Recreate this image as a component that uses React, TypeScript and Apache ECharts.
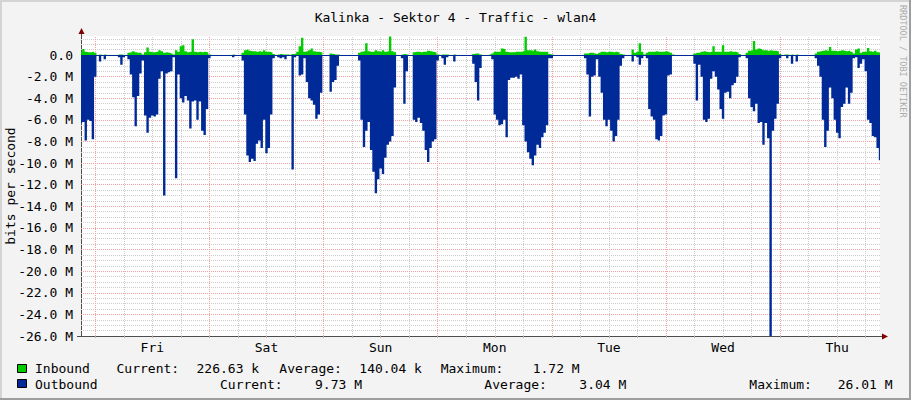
import React, { useEffect, useRef } from 'react';
import * as echarts from 'echarts';

const TITLE = 'Kalinka - Sektor 4 - Traffic - wlan4';
const Y_NAME = 'bits per second';
const WATERMARK = 'RRDTOOL / TOBI OETIKER';

// x values: hours since the start of the graph (Thu 21:00), one sample per 30 min
const STEP_HOURS = 0.5;
const DAY_LABELS = ['Fri', 'Sat', 'Sun', 'Mon', 'Tue', 'Wed', 'Thu'];
const DAY_LABEL_HOURS = [15, 39, 63, 87, 111, 135, 159];
const MIDNIGHT_HOURS = [3, 27, 51, 75, 99, 123, 147];
const SIX_HOUR_LINES = [9, 15, 21, 33, 39, 45, 57, 63, 69, 81, 87, 93, 105, 111, 117, 129, 135, 141, 153, 159, 165];

// y ticks in M (bits per second, millions)
const Y_MAJOR = [0, -2, -4, -6, -8, -10, -12, -14, -16, -18, -20, -22, -24, -26];
const Y_MINOR = [1.5, 1, 0.5, -0.5, -1, -1.5, -2.5, -3, -3.5, -4.5, -5, -5.5, -6.5, -7, -7.5, -8.5, -9, -9.5,
  -10.5, -11, -11.5, -12.5, -13, -13.5, -14.5, -15, -15.5, -16.5, -17, -17.5, -18.5, -19, -19.5,
  -20.5, -21, -21.5, -22.5, -23, -23.5, -24.5, -25, -25.5];

// Outbound traffic (M, drawn negative)
const OUTBOUND = [
  -6.3, -6.2, -7.9, -6.0, -6.1, -7.8, -2.0, 0, -0.6, -0.1, -0.4, -0.1,
  0, 0, 0, 0, -0.2, -0.9, -0.2, 0, -0.4, -1.8, -3.9, -6.6,
  -3.8, -1.7, -0.5, -5.6, -7.2, -5.8, -5.6, -5.7, -5.5, -2.2, -1.5, -13.0,
  -1.7, -1.6, -1.5, -0.2, -11.4, -1.8, -4.0, -4.4, -3.8, -4.2, -6.8, -4.3,
  -4.2, -6.0, -4.3, -7.0, -7.4, -5.0, -0.3, 0, 0, 0, 0, 0,
  0, 0, 0, 0, -0.2, -0.1, 0, 0, -0.5, -5.5, -9.3, -9.9,
  -9.6, -9.8, -8.2, -7.9, -8.6, -6.0, -9.1, -8.6, -5.5, -0.3, 0, -0.2,
  -0.3, -0.2, -0.4, -0.1, 0, -10.6, -0.2, -0.1, -1.9, -1.8, -0.3, -2.5,
  -4.0, -4.2, -4.6, -5.9, -5.5, -3.5, 0, 0, 0, -3.4, -2.5, -2.3,
  -1.0, -0.1, -0.1, 0, 0, 0, 0, 0, 0, -0.5, -6.0, -8.5,
  -7.0, -6.2, -8.8, -10.8, -12.8, -11.5, -10.5, -11.0, -9.5, -8.3, -8.0, -7.5,
  -3.0, 0, 0, -0.3, -4.5, -1.5, -0.1, 0, -6.0, -6.2, -5.8, -6.3,
  -7.0, -8.8, -9.9, -8.6, -8.0, -7.8, -0.5, 0, -0.3, -0.9, -0.2, 0,
  -0.1, -0.6, -0.1, 0, 0, 0, 0, 0, 0, -0.8, -2.5, -4.2,
  -1.2, -0.1, 0, 0, 0, -0.4, -5.5, -6.0, -6.5, -6.4, -6.0, -7.6,
  -2.3, -2.1, -2.1, -2.0, -2.2, -1.8, -6.5, -8.0, -9.0, -9.6, -10.2, -9.3,
  -8.3, -8.6, -7.6, -7.2, -6.5, -0.3, -0.3, 0, 0, 0, 0, 0,
  0, -0.1, 0, 0, 0, 0, 0, 0, -0.3, -1.8, -5.7, -2.0,
  -1.9, -0.4, -2.0, -3.5, -6.0, -6.6, -6.0, -7.0, -8.0, -7.5, -6.0, -1.0,
  -0.3, 0, 0, 0, -0.6, 0, -0.2, -0.9, -0.3, 0, -0.3, -5.0,
  -5.7, -6.0, -7.8, -7.9, -7.5, -5.6, -5.5, -1.9, -1.8, -0.1, 0, 0,
  0, 0, 0, 0, 0, 0, -0.8, -4.2, -0.9, -2.0, -6.0, -6.2,
  -5.9, -2.2, -1.5, -2.0, -3.2, -5.0, -5.9, -3.5, -3.4, -4.0, -2.8, -2.6,
  -2.0, -0.2, 0, 0, -0.3, -4.0, -4.8, -5.2, -4.5, -6.3, -6.2, -8.3,
  -6.3, -7.7, -26.01, -7.0, -5.9, -4.5, -0.3, 0, -0.1, -0.3, -0.1, -0.8,
  -0.1, -0.6, 0, 0, 0, 0, 0, 0, 0, -0.3, -1.0, -2.0,
  -6.0, -8.5, -7.0, -3.0, -4.0, -6.0, -7.2, -7.7, -4.8, -4.5, -3.0, -4.5,
  -3.5, -0.3, -0.2, -1.2, -0.8, -0.4, -1.5, -6.0, -6.3, -7.5, -7.6, -8.6,
  -9.73,
];

// Inbound traffic (M)
const INBOUND = [
  0.3, 0.55, 0.3, 0.25, 0.25, 0.3, 0.2, 0, 0.05, 0, 0.05, 0,
  0, 0, 0, 0, 0.05, 0.05, 0, 0, 0.2, 0.25, 0.35, 0.25,
  0.2, 0.2, 0.05, 0.25, 0.7, 0.3, 0.25, 0.25, 0.3, 0.45, 0.35, 0.2,
  0.25, 0.2, 0.15, 0.05, 0.45, 0.3, 0.8, 0.9, 0.35, 0.25, 0.3, 1.45,
  0.3, 0.25, 0.3, 0.25, 0.3, 0.25, 0.05, 0, 0, 0, 0, 0,
  0, 0, 0, 0, 0.05, 0, 0, 0, 0.2, 0.45, 0.5, 0.4,
  0.35, 0.35, 0.3, 0.35, 0.3, 0.45, 0.3, 0.3, 0.25, 0.1, 0, 0.05,
  0.1, 0.05, 0.05, 0.05, 0, 0.1, 0.1, 0.3, 0.8, 1.6, 0.3, 0.35,
  0.45, 0.6, 0.35, 0.3, 0.3, 0.25, 0, 0, 0, 0.15, 0.1, 0.05,
  0.05, 0, 0, 0, 0, 0, 0, 0, 0, 0.2, 0.3, 0.35,
  1.1, 0.35, 0.3, 0.3, 0.45, 0.35, 0.3, 0.45, 0.3, 0.35, 1.72, 0.35,
  0.25, 0, 0, 0.05, 0.1, 0.05, 0, 0, 0.25, 0.3, 0.3, 0.25,
  0.3, 0.3, 0.4, 0.35, 0.3, 0.25, 0.05, 0, 0.05, 0.05, 0.05, 0,
  0, 0.05, 0, 0, 0, 0, 0, 0, 0, 0.1, 0.15, 0.15,
  0.05, 0, 0, 0, 0.05, 0.15, 0.3, 0.3, 0.3, 0.6, 0.55, 0.3,
  0.25, 0.25, 0.25, 0.3, 0.3, 0.3, 0.35, 1.68, 0.45, 0.45, 0.4, 0.5,
  0.35, 0.3, 0.3, 0.3, 0.3, 0.1, 0.05, 0, 0, 0, 0, 0,
  0, 0, 0, 0, 0, 0, 0, 0, 0.15, 0.15, 0.2, 0.2,
  0.15, 0.1, 0.2, 0.3, 0.3, 0.25, 0.3, 0.3, 0.25, 0.3, 0.25, 0.1,
  0.05, 0, 0, 0, 0.5, 0.2, 0.3, 1.1, 0.3, 0.05, 0.2, 0.3,
  0.3, 0.3, 0.35, 0.3, 0.3, 0.3, 0.35, 0.3, 0.2, 0.05, 0, 0,
  0, 0, 0, 0, 0, 0, 0.15, 0.2, 0.2, 0.3, 0.35, 0.3,
  0.25, 0.3, 0.8, 0.3, 0.3, 0.3, 0.9, 0.3, 0.3, 0.35, 0.3, 0.3,
  0.25, 0.1, 0, 0, 0.2, 0.4, 0.45, 1.3, 0.5, 0.6, 0.55, 0.45,
  0.45, 0.4, 0.45, 0.4, 0.4, 0.35, 0.1, 0, 0.05, 0.05, 0, 0.05,
  0, 0.05, 0, 0, 0, 0, 0, 0, 0, 0.15, 0.3, 0.35,
  0.4, 0.45, 0.4, 0.75, 0.4, 0.4, 0.35, 0.4, 0.45, 0.4, 0.35, 0.4,
  0.3, 0.15, 0.5, 0.6, 0.2, 0.3, 0.3, 0.65, 0.35, 0.3, 0.4, 0.25,
  0.23,
];

const LEGEND_LABELS = ['Inbound', 'Outbound'];
const STAT_LABELS = ['Current:', 'Average:', 'Maximum:'];
const INBOUND_STATS = ['226.63 k', '140.04 k', '1.72 M'];
const OUTBOUND_STATS = ['9.73 M', '3.04 M', '26.01 M'];

const GREEN = '#00CC00';
const BLUE = '#002A97';
const FONT = '"DejaVu Sans Mono", monospace';
const AXIS_COLOR = '#4d4d4d';
const ARROW_COLOR = '#7f0000';

export default function App() {
  const ref = useRef<HTMLDivElement>(null);

  useEffect(() => {
    if (!ref.current) return;
    const chart = echarts.init(ref.current, null, { renderer: 'svg' });
    const hours = OUTBOUND.map((_, i) => i * STEP_HOURS);

    const redLine = { color: '#f2a0a0', type: [1, 1], width: 1 };
    const grayLine = { color: '#cccccc', type: [1, 1], width: 1 };
    const gridLines: any[] = [
      ...SIX_HOUR_LINES.map((h) => ({ xAxis: h, lineStyle: grayLine })),
      ...Y_MINOR.map((v) => ({ yAxis: v, lineStyle: grayLine })),
      ...MIDNIGHT_HOURS.map((h) => ({ xAxis: h, lineStyle: redLine })),
      ...Y_MAJOR.filter((v) => v !== 0 && v !== -26).map((v) => ({ yAxis: v, lineStyle: redLine })),
    ];

    const txt = (text: string, x: number, y: number, extra: any = {}) => ({
      type: 'text',
      x,
      y,
      silent: true,
      style: {
        text,
        font: `13px ${FONT}`,
        fill: '#000',
        align: 'left',
        verticalAlign: 'middle',
        textAlign: 'left',
        textVerticalAlign: 'middle',
        ...extra,
      },
    });

    const row1Y = 368.5;
    const row2Y = 384;
    const graphic: any[] = [
      // frame
      { type: 'line', silent: true, shape: { x1: 0, y1: 1, x2: 911, y2: 1 }, style: { stroke: '#d4d4d4', lineWidth: 2 } },
      { type: 'line', silent: true, shape: { x1: 1, y1: 0, x2: 1, y2: 400 }, style: { stroke: '#d4d4d4', lineWidth: 2 } },
      { type: 'line', silent: true, shape: { x1: 910, y1: 0, x2: 910, y2: 400 }, style: { stroke: '#9e9e9e', lineWidth: 2 } },
      { type: 'line', silent: true, shape: { x1: 0, y1: 399, x2: 911, y2: 399 }, style: { stroke: '#9e9e9e', lineWidth: 2 } },
      // axis extensions and arrows
      { type: 'line', silent: true, shape: { x1: 81.5, y1: 36, x2: 81.5, y2: 33 }, style: { stroke: AXIS_COLOR, lineWidth: 1 } },
      { type: 'line', silent: true, shape: { x1: 77, y1: 336.5, x2: 81, y2: 336.5 }, style: { stroke: AXIS_COLOR, lineWidth: 1 } },
      { type: 'line', silent: true, shape: { x1: 880, y1: 336.5, x2: 883, y2: 336.5 }, style: { stroke: AXIS_COLOR, lineWidth: 1 } },
      { type: 'polygon', silent: true, shape: { points: [[78.5, 34], [84.5, 34], [81.5, 28]] }, style: { fill: ARROW_COLOR } },
      { type: 'polygon', silent: true, shape: { points: [[882, 333.5], [882, 339.5], [888, 336.5]] }, style: { fill: ARROW_COLOR } },
      // watermark
      {
        type: 'text',
        x: 903,
        y: 5,
        rotation: -Math.PI / 2,
        silent: true,
        style: {
          text: WATERMARK,
          font: `8.5px ${FONT}`,
          fill: '#ababab',
          align: 'left',
          verticalAlign: 'middle',
          textAlign: 'left',
          textVerticalAlign: 'middle',
        },
      },
      // legend boxes
      { type: 'rect', silent: true, shape: { x: 17.5, y: 364.5, width: 9, height: 8 }, style: { fill: GREEN, stroke: '#000', lineWidth: 1 } },
      { type: 'rect', silent: true, shape: { x: 17.5, y: 379.5, width: 9, height: 8 }, style: { fill: BLUE, stroke: '#000', lineWidth: 1 } },
      txt(LEGEND_LABELS[0], 35, row1Y),
      txt(STAT_LABELS[0], 116.5, row1Y),
      txt(INBOUND_STATS[0], 196.5, row1Y),
      txt(STAT_LABELS[1], 279.3, row1Y),
      txt(INBOUND_STATS[1], 359.3, row1Y),
      txt(STAT_LABELS[2], 440.7, row1Y),
      txt(INBOUND_STATS[2], 532.7, row1Y),
      txt(LEGEND_LABELS[1], 35, row2Y),
      txt(STAT_LABELS[0], 220, row2Y),
      txt(OUTBOUND_STATS[0], 315, row2Y),
      txt(STAT_LABELS[1], 484.3, row2Y),
      txt(OUTBOUND_STATS[1], 579.3, row2Y),
      txt(STAT_LABELS[2], 749.3, row2Y),
      txt(OUTBOUND_STATS[2], 837.7, row2Y),
    ];

    chart.setOption({
      animation: false,
      backgroundColor: '#f3f3f3',
      title: {
        text: TITLE,
        left: 'center',
        top: 6,
        textStyle: { fontFamily: FONT, fontSize: 13, fontWeight: 'normal', color: '#000' },
      },
      grid: {
        left: 81,
        right: 31,
        top: 36,
        bottom: 64,
        containLabel: false,
        outerBoundsMode: 'none',
        show: true,
        backgroundColor: '#ffffff',
        borderWidth: 0,
      },
      xAxis: {
        type: 'value',
        min: 0,
        max: 168,
        axisLine: { show: true, onZero: false, lineStyle: { color: AXIS_COLOR, width: 1 } },
        axisTick: {
          show: true,
          customValues: [...MIDNIGHT_HOURS, ...SIX_HOUR_LINES],
          length: 2,
          lineStyle: { color: '#c8a8a8' },
        },
        axisLabel: {
          show: true,
          customValues: DAY_LABEL_HOURS,
          formatter: (v: number) => DAY_LABELS[DAY_LABEL_HOURS.indexOf(v)] ?? '',
          margin: 5,
          color: '#000',
          fontFamily: FONT,
          fontSize: 13,
        },
        splitLine: { show: false },
      },
      yAxis: {
        type: 'value',
        min: -26,
        max: 1.76,
        interval: 2,
        name: Y_NAME,
        nameLocation: 'middle',
        nameGap: 64,
        nameRotate: 90,
        nameMoveOverlap: false,
        nameTextStyle: { fontFamily: FONT, fontSize: 13, color: '#000' },
        axisLine: { show: true, onZero: false, lineStyle: { color: AXIS_COLOR, width: 1 } },
        axisTick: { show: false },
        axisLabel: {
          margin: 8,
          color: '#000',
          fontFamily: FONT,
          fontSize: 13,
          formatter: (v: number) => {
            if (!Y_MAJOR.includes(v)) return '';
            return v === 0 ? '0.0' : `${v.toFixed(1)} M`;
          },
        },
        splitLine: { show: false },
      },
      series: [
        {
          type: 'line',
          name: 'Inbound',
          data: hours.map((h, i) => [h, INBOUND[i]]),
          step: 'middle',
          symbol: 'none',
          showSymbol: false,
          silent: true,
          z: 3,
          lineStyle: { width: 0, color: GREEN },
          areaStyle: { color: GREEN, opacity: 1 },
          markLine: {
            silent: true,
            symbol: ['none', 'none'],
            label: { show: false },
            z: 6,
            animation: false,
            data: [{ yAxis: 0, lineStyle: { color: BLUE, width: 1, type: 'solid' } }],
          },
        },
        {
          type: 'line',
          name: 'Outbound',
          data: hours.map((h, i) => [h, OUTBOUND[i]]),
          step: 'middle',
          symbol: 'none',
          showSymbol: false,
          silent: true,
          z: 3,
          lineStyle: { width: 0, color: BLUE },
          areaStyle: { color: BLUE, opacity: 1 },
          markLine: {
            silent: true,
            symbol: ['none', 'none'],
            label: { show: false },
            z: 1,
            animation: false,
            data: gridLines,
          },
        },
      ],
      graphic,
    });

    return () => chart.dispose();
  }, []);

  return (
    <div
      ref={ref}
      style={{ position: 'fixed', left: 0, top: 0, width: 911, height: 400 }}
    />
  );
}
